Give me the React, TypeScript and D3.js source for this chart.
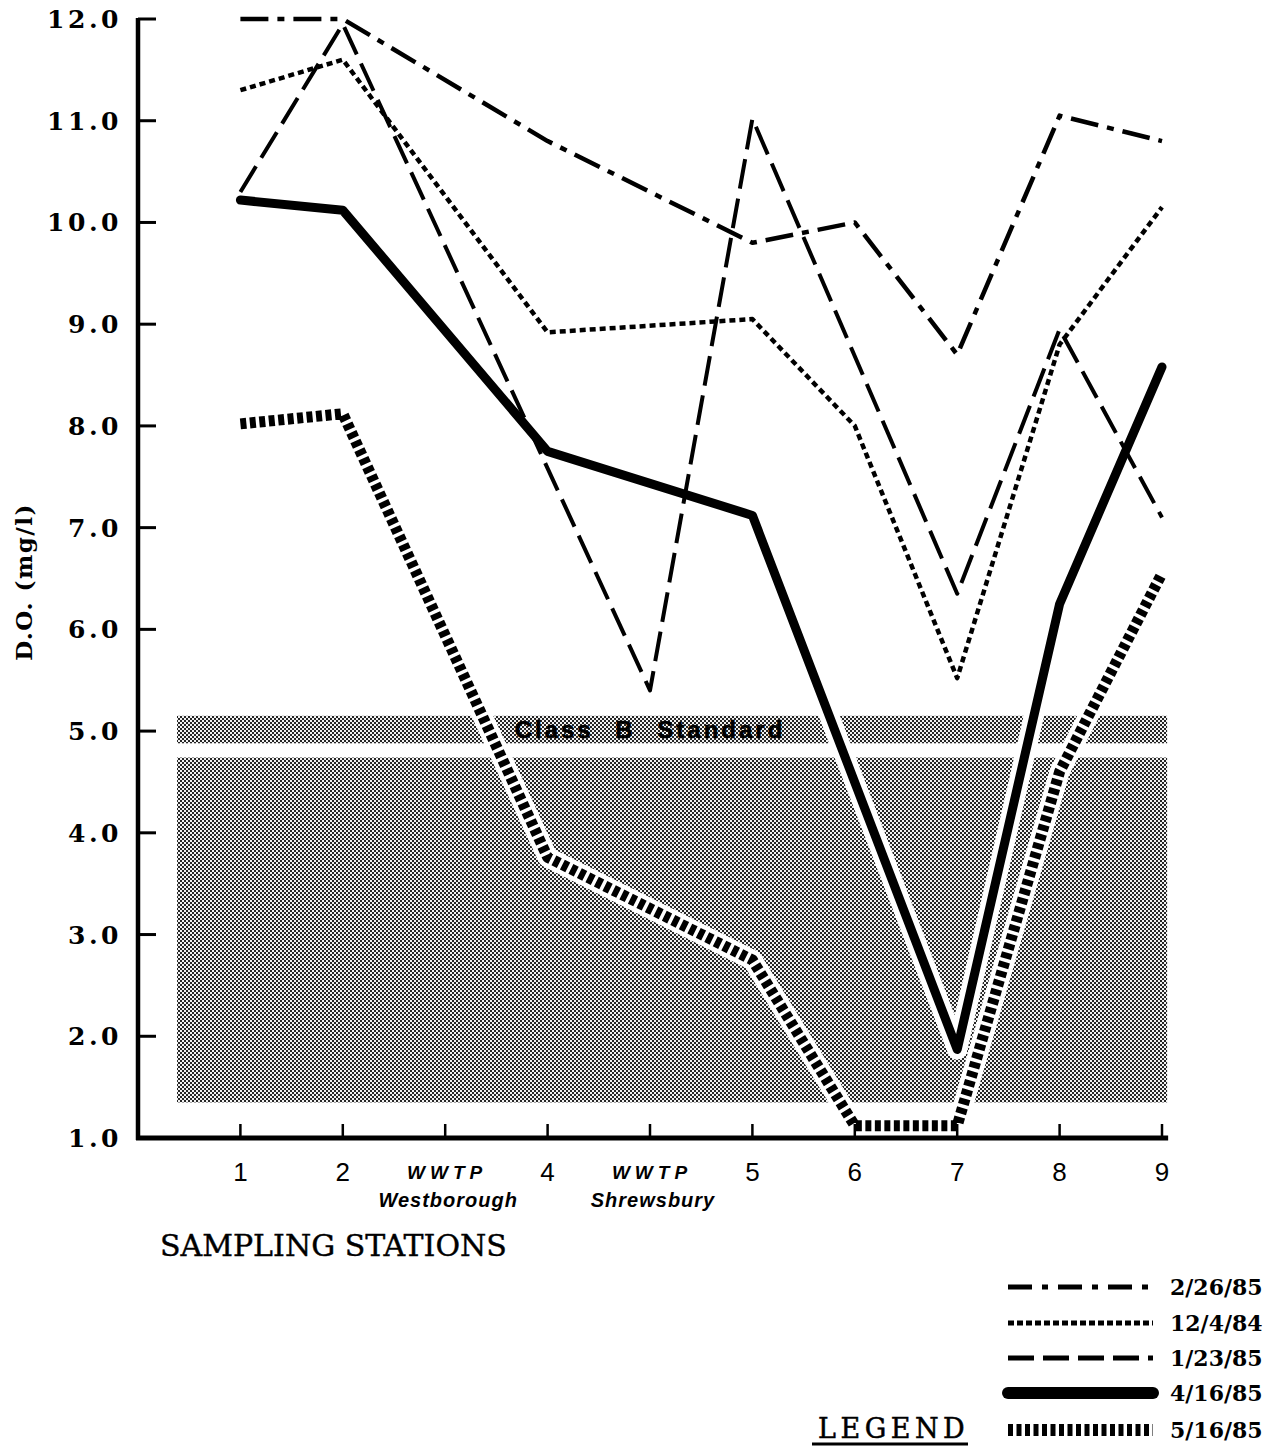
import React from "react";
import * as d3 from "d3";

// ---- data ----
const stationLabels = ["1", "2", "WWTP|Westborough", "4", "WWTP|Shrewsbury", "5", "6", "7", "8", "9"];
const yTickValues = [1, 2, 3, 4, 5, 6, 7, 8, 9, 10, 11, 12];
const seriesNames = ["2/26/85", "12/4/84", "1/23/85", "4/16/85", "5/16/85"];
const do022685: (number | null)[] = [12.0, 12.0, null, 10.8, null, 9.8, 10.0, 8.7, 11.05, 10.8];
const do120484: (number | null)[] = [11.3, 11.6, null, 8.92, null, 9.05, 8.0, 5.52, 8.8, 10.15];
const do012385: (number | null)[] = [10.3, 11.95, null, null, 5.4, 11.02, null, 6.35, 8.95, 7.1];
const do041685: (number | null)[] = [10.22, 10.12, null, 7.75, null, 7.12, null, 1.87, 6.25, 8.58];
const do051685: (number | null)[] = [8.02, 8.12, null, 3.76, null, 2.75, 1.12, 1.12, 4.6, 6.55];
const standardBand = [4.88, 5.15];
const lowBand = [1.35, 4.74];
const standardLabel = "Class B Standard";

const seriesValues = [do022685, do120484, do012385, do041685, do051685];

type Style = { width: number; dash?: string; halo?: number; legendWidth: number; legendDash?: string };
const styles: Style[] = [
  { width: 4.5, dash: "28 9 7 9", legendWidth: 5, legendDash: "24 10 6 10" },
  { width: 4.5, dash: "6 4", legendWidth: 5, legendDash: "6 3" },
  { width: 4, dash: "30 10", legendWidth: 5, legendDash: "26 9" },
  { width: 9, halo: 20, legendWidth: 12 },
  { width: 11, dash: "6 3.5", halo: 20, legendWidth: 12, legendDash: "5 3.5" },
];

const W = 1285;
const H = 1450;

export default function App() {
  const x = d3.scaleLinear().domain([0, 10]).range([138, 1162]);
  const y = d3.scaleLinear().domain([1, 12]).range([1138, 19]);

  const line = d3
    .line<[number, number]>()
    .x((d) => x(d[0]))
    .y((d) => y(d[1]));

  const pts = (vals: (number | null)[]): [number, number][] =>
    vals
      .map((v, i) => (v == null ? null : ([i + 1, v] as [number, number])))
      .filter((d): d is [number, number] => d !== null);

  const bandX0 = 177;
  const bandX1 = x(10.05);
  const axisRight = x(10.06);

  const legendX0 = 1008;
  const legendX1 = 1153;
  const legendYs = [1287, 1323, 1358, 1393, 1430];

  const serifB = "'DejaVu Serif', serif";
  const sans = "'Liberation Sans', Arial, sans-serif";

  return (
    <svg
      width={W}
      height={H}
      viewBox={`0 0 ${W} ${H}`}
      style={{ position: "absolute", left: 0, top: 0, background: "#fff" }}
    >
      <defs>
        <pattern id="halftone" width="4" height="4" patternUnits="userSpaceOnUse">
          <rect width="4" height="4" fill="#f2f2f2" />
          <rect x="0" y="0" width="2" height="2" fill="#262626" />
          <rect x="2" y="2" width="2" height="2" fill="#262626" />
        </pattern>
      </defs>
      <rect width={W} height={H} fill="#fff" />

      {/* shaded bands */}
      <rect
        x={bandX0}
        y={y(standardBand[1])}
        width={bandX1 - bandX0}
        height={y(standardBand[0]) - y(standardBand[1])}
        fill="url(#halftone)"
      />
      <rect
        x={bandX0}
        y={y(lowBand[1])}
        width={bandX1 - bandX0}
        height={y(lowBand[0]) - y(lowBand[1])}
        fill="url(#halftone)"
      />
      <text
        x={650}
        y={y((standardBand[0] + standardBand[1]) / 2)}
        dy="0.36em"
        textAnchor="middle"
        fontFamily={sans}
        fontWeight={900}
        fontSize={24}
        letterSpacing={3}
        wordSpacing={12}
        fill="#000"
        stroke="#000"
        strokeWidth={0.6}
      >
        {standardLabel}
      </text>

      {/* halos */}
      {seriesValues.map((vals, i) =>
        styles[i].halo ? (
          <path
            key={"h" + i}
            d={line(pts(vals)) || ""}
            fill="none"
            stroke="#fff"
            strokeWidth={styles[i].halo}
            strokeLinejoin="round"
            strokeLinecap="round"
          />
        ) : null
      )}

      {/* series lines */}
      {seriesValues.map((vals, i) => (
        <path
          key={"s" + i}
          d={line(pts(vals)) || ""}
          fill="none"
          stroke="#000"
          strokeWidth={styles[i].width}
          strokeDasharray={styles[i].dash}
          strokeLinejoin="round"
          strokeLinecap={styles[i].dash ? "butt" : "round"}
        />
      ))}

      {/* y axis */}
      <line x1={138} x2={138} y1={y(12) - 1} y2={y(1) + 2} stroke="#000" strokeWidth={4.5} />
      {yTickValues.map((t) => (
        <g key={"yt" + t}>
          {t > 1 && <line x1={138} x2={156} y1={y(t)} y2={y(t)} stroke="#000" strokeWidth={3} />}
          <text
            x={122}
            y={y(t)}
            dy="0.36em"
            textAnchor="end"
            fontFamily={serifB}
            fontWeight="bold"
            fontSize={25}
            letterSpacing={3.5}
            fill="#000"
          >
            {t.toFixed(1)}
          </text>
        </g>
      ))}
      <text
        transform={`translate(32, 582) rotate(-90)`}
        textAnchor="middle"
        fontFamily={serifB}
        fontWeight="bold"
        fontSize={23}
        letterSpacing={1.5}
        fill="#000"
      >
        D.O. (mg/l)
      </text>

      {/* x axis */}
      <line x1={136} x2={axisRight} y1={y(1)} y2={y(1)} stroke="#000" strokeWidth={5} />
      {stationLabels.map((lab, i) => {
        const cx = x(i + 1);
        const parts = lab.split("|");
        return (
          <g key={"xt" + i}>
            <line x1={cx} x2={cx} y1={y(1)} y2={y(1) - 14} stroke="#000" strokeWidth={2.5} />
            {parts.length === 1 ? (
              <text x={cx} y={1181} textAnchor="middle" fontFamily={sans} fontSize={26} fill="#000">
                {lab}
              </text>
            ) : (
              <>
                <text
                  x={cx + 2}
                  y={1179}
                  textAnchor="middle"
                  fontFamily={sans}
                  fontWeight="bold"
                  fontStyle="italic"
                  fontSize={19}
                  letterSpacing={5}
                  fill="#000"
                >
                  {parts[0]}
                </text>
                <text
                  x={cx + 3}
                  y={1207}
                  textAnchor="middle"
                  fontFamily={sans}
                  fontWeight="bold"
                  fontStyle="italic"
                  fontSize={20}
                  letterSpacing={1}
                  fill="#000"
                >
                  {parts[1]}
                </text>
              </>
            )}
          </g>
        );
      })}
      <text x={160} y={1256} fontFamily={serifB} fontSize={30} fill="#000" stroke="#000" strokeWidth={0.4}>
        SAMPLING STATIONS
      </text>

      {/* legend */}
      {seriesNames.map((name, i) => (
        <g key={"lg" + i}>
          <line
            x1={legendX0}
            x2={legendX1}
            y1={legendYs[i]}
            y2={legendYs[i]}
            stroke="#000"
            strokeWidth={styles[i].legendWidth}
            strokeDasharray={styles[i].legendDash}
            strokeLinecap={styles[i].legendDash ? "butt" : "round"}
          />
          <text
            x={1170}
            y={legendYs[i]}
            dy="0.36em"
            fontFamily={serifB}
            fontWeight="bold"
            fontSize={22}
            fill="#000"
          >
            {name}
          </text>
        </g>
      ))}
      <text x={818} y={1438} fontFamily={serifB} fontSize={27} letterSpacing={4.5} fill="#000" stroke="#000" strokeWidth={0.5}>
        LEGEND
      </text>
      <line x1={812} x2={968} y1={1444} y2={1444} stroke="#000" strokeWidth={3} />
    </svg>
  );
}
